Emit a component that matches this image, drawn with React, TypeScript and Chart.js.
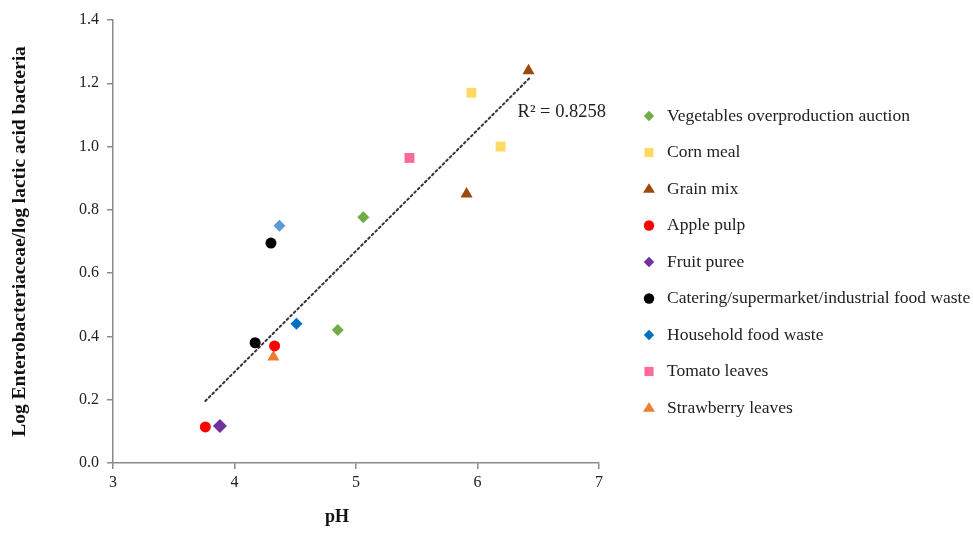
import React, { useEffect, useRef } from 'react';
import { Chart, registerables } from 'chart.js';

Chart.register(...registerables);

const FONT = "'Liberation Serif', 'Times New Roman', serif";

const seriesNames = [
  'Vegetables overproduction auction',
  'Corn meal',
  'Grain mix',
  'Apple pulp',
  'Fruit puree',
  'Catering/supermarket/industrial food waste',
  'Household food waste',
  'Tomato leaves',
  'Strawberry leaves',
];
const seriesColors = ['#70AD47', '#FFD966', '#9E480E', '#FF0000', '#7030A0', '#000000', '#0070C0', '#FF6A9E', '#ED7D31'];
const seriesStyles = ['rectRot', 'rect', 'triangle', 'circle', 'rectRot', 'circle', 'rectRot', 'rect', 'triangle'];
const seriesRadius = [6, 7, 7, 5.5, 7, 5.5, 6, 7, 7];

const vegetablesX = [4.85, 5.06];
const vegetablesY = [0.42, 0.777];
const cornMealX = [5.95, 6.19];
const cornMealY = [1.17, 1.0];
const grainMixX = [6.42, 5.91];
const grainMixY = [1.24, 0.85];
const applePulpX = [3.76, 4.33];
const applePulpY = [0.114, 0.37];
const fruitPureeX = [3.88];
const fruitPureeY = [0.117];
const cateringX = [4.17, 4.3];
const cateringY = [0.38, 0.695];
const householdX = [4.51, 4.37];
const householdY = [0.44, 0.75];
const householdPointColors = ['#0070C0', '#5B9BD5'];
const tomatoX = [5.44];
const tomatoY = [0.964];
const strawberryX = [4.32];
const strawberryY = [0.335];

const trendX = [3.76, 6.43];
const trendY = [0.196, 1.217];
const r2Label = 'R² = 0.8258';
const r2X = 6.33;
const r2Y = 1.11;

const xTitle = 'pH';
const yTitle = 'Log Enterobacteriaceae/log lactic acid bacteria';
const xTicks = [3, 4, 5, 6, 7];
const yTicks = [0, 0.2, 0.4, 0.6, 0.8, 1.0, 1.2, 1.4];

const seriesX = [vegetablesX, cornMealX, grainMixX, applePulpX, fruitPureeX, cateringX, householdX, tomatoX, strawberryX];
const seriesY = [vegetablesY, cornMealY, grainMixY, applePulpY, fruitPureeY, cateringY, householdY, tomatoY, strawberryY];

function drawMarker(ctx: CanvasRenderingContext2D, style: string, x: number, y: number, r: number, color: string) {
  ctx.save();
  ctx.fillStyle = color;
  ctx.beginPath();
  if (style === 'circle') {
    ctx.arc(x, y, r, 0, Math.PI * 2);
  } else if (style === 'rect') {
    const s = r * Math.SQRT1_2;
    ctx.rect(x - s, y - s, 2 * s, 2 * s);
  } else if (style === 'rectRot') {
    ctx.moveTo(x, y - r);
    ctx.lineTo(x + r, y);
    ctx.lineTo(x, y + r);
    ctx.lineTo(x - r, y);
    ctx.closePath();
  } else if (style === 'triangle') {
    const h = r * 1.6;
    ctx.moveTo(x, y - h * 0.6);
    ctx.lineTo(x + r, y + h * 0.4);
    ctx.lineTo(x - r, y + h * 0.4);
    ctx.closePath();
  }
  ctx.fill();
  ctx.restore();
}

const extrasPlugin = {
  id: 'extras',
  afterDraw(chart: any) {
    const ctx = chart.ctx as CanvasRenderingContext2D;
    const xs = chart.scales.x;
    const ys = chart.scales.y;
    const area = chart.chartArea;
    ctx.save();
    ctx.font = `18.5px ${FONT}`;
    ctx.fillStyle = '#222';
    ctx.textAlign = 'left';
    ctx.textBaseline = 'middle';
    ctx.fillText(r2Label, xs.getPixelForValue(r2X), ys.getPixelForValue(r2Y));

    // x-axis title (slightly left of the plot centre, as in the source figure)
    ctx.font = `bold 18px ${FONT}`;
    ctx.fillStyle = '#111';
    ctx.textAlign = 'center';
    ctx.fillText(xTitle, area.left + 224, area.bottom + 54);

    const markerX = area.right + 50;
    const textX = area.right + 68;
    const startY = area.top + 96;
    const step = 36.5;
    ctx.font = `17.5px ${FONT}`;
    ctx.textAlign = 'left';
    seriesNames.forEach((name, i) => {
      const y = startY + i * step;
      drawMarker(ctx, seriesStyles[i], markerX, y, seriesStyles[i] === 'rect' ? 6.5 : seriesStyles[i] === 'triangle' ? 6 : 5.2, seriesColors[i]);
      ctx.fillStyle = '#222';
      ctx.fillText(name, textX, y);
    });
    ctx.restore();
  },
};

export default function App() {
  const ref = useRef<HTMLCanvasElement | null>(null);
  useEffect(() => {
    if (!ref.current) return;
    const datasets: any[] = seriesNames.map((name, i) => ({
      label: name,
      data: seriesX[i].map((x, j) => ({ x, y: seriesY[i][j] })),
      pointStyle: seriesStyles[i],
      pointRadius: seriesRadius[i],
      pointBackgroundColor: i === 6 ? householdPointColors : seriesColors[i],
      pointBorderWidth: 0,
      borderColor: seriesColors[i],
      backgroundColor: seriesColors[i],
      showLine: false,
    }));
    datasets.push({
      label: 'Trend',
      data: trendX.map((x, j) => ({ x, y: trendY[j] })),
      showLine: true,
      borderColor: '#333',
      borderWidth: 2,
      borderDash: [2, 3],
      borderCapStyle: 'round',
      pointRadius: 0,
      fill: false,
    });
    const chart = new Chart(ref.current, {
      type: 'scatter',
      data: { datasets },
      options: {
        animation: false,
        responsive: false,
        layout: { padding: { left: 0, right: 374, top: 20, bottom: 0 } },
        plugins: { legend: { display: false }, tooltip: { enabled: false } },
        scales: {
          x: {
            type: 'linear',
            min: 3,
            max: 7,
            afterBuildTicks: (s: any) => { s.ticks = xTicks.map((v) => ({ value: v })); },
            afterFit: (s: any) => { s.height = 75; },
            ticks: { font: { family: FONT, size: 16 }, color: '#222', padding: 4 },
            grid: { display: true, drawOnChartArea: false, drawTicks: true, tickLength: 6, color: '#8a8a8a', lineWidth: 1.5 },
            border: { color: '#8a8a8a', width: 1.5 },
            title: { display: false },
          },
          y: {
            type: 'linear',
            min: 0,
            max: 1.4,
            afterBuildTicks: (s: any) => { s.ticks = yTicks.map((v) => ({ value: v })); },
            afterFit: (s: any) => { s.width = 113; },
            ticks: { font: { family: FONT, size: 16 }, color: '#222', padding: 8, callback: (v: any) => Number(v).toFixed(1) },
            grid: { display: true, drawOnChartArea: false, drawTicks: true, tickLength: 6, color: '#8a8a8a', lineWidth: 1.5 },
            border: { color: '#8a8a8a', width: 1.5 },
            title: { display: true, text: yTitle, font: { family: FONT, size: 19.5, weight: 'bold' }, color: '#111', padding: { top: 8, bottom: 0 } },
          },
        },
      },
      plugins: [extrasPlugin],
    });
    return () => chart.destroy();
  }, []);
  return (
    <div style={{ position: 'absolute', left: 0, top: 0, width: 973, height: 538, background: '#fff' }}>
      <canvas ref={ref} width={973} height={538} />
    </div>
  );
}
